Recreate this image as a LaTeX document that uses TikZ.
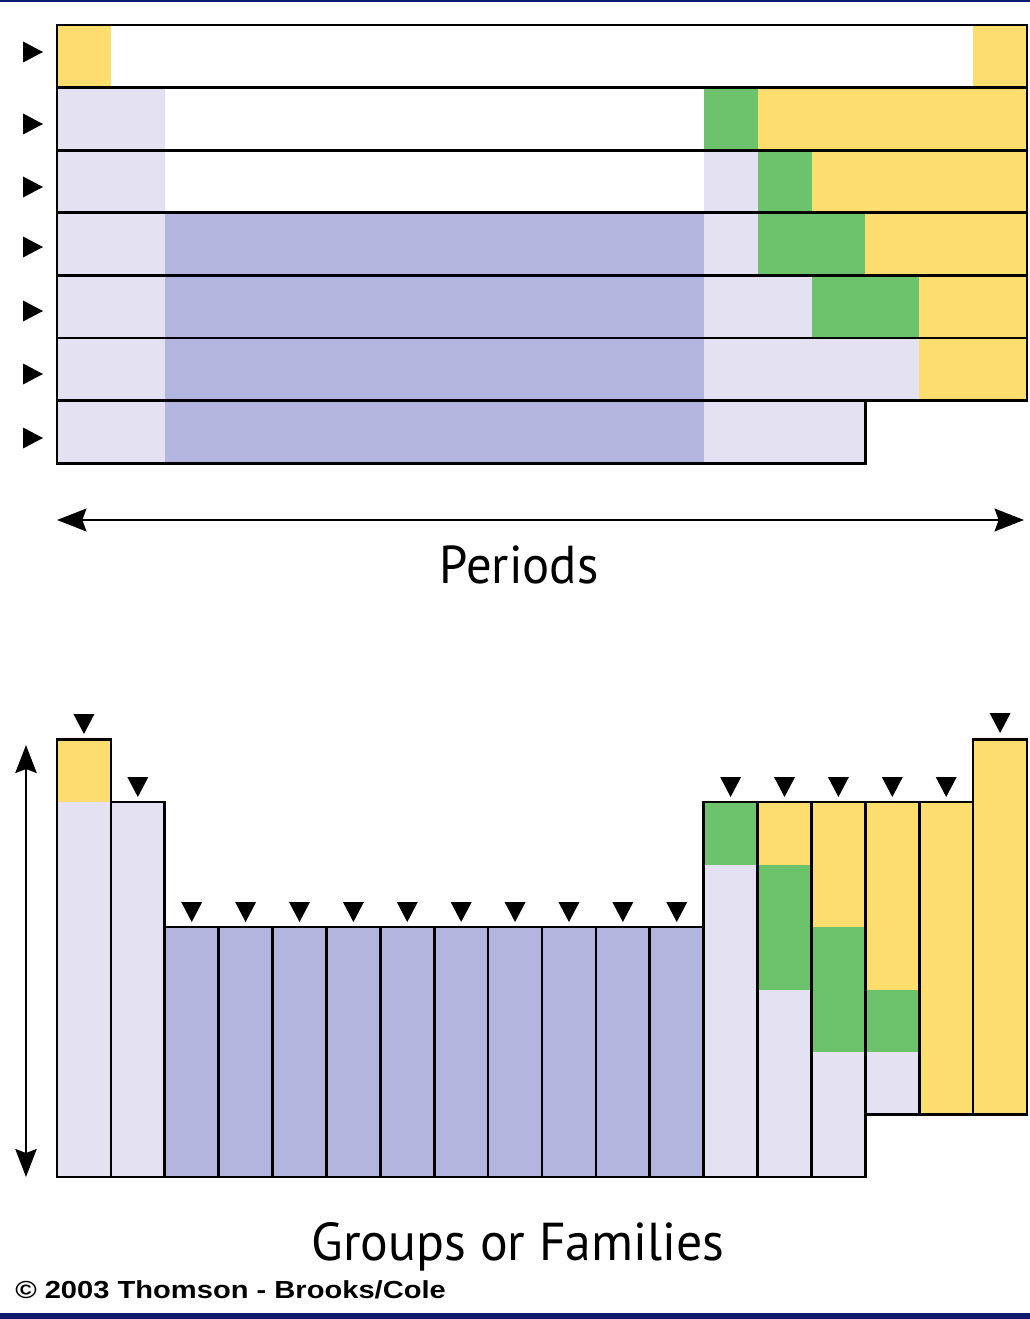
\documentclass[tikz,border=0pt]{standalone}
\usepackage{fontspec}
\usepackage{graphicx}
\usetikzlibrary{arrows.meta}
\newfontfamily\labelfont{PT Sans}
\newfontfamily\credfont{Liberation Sans}
\definecolor{pyel}{HTML}{FCDD6E}
\definecolor{pgrn}{HTML}{6DC36B}
\definecolor{plt}{HTML}{E3E1F2}
\definecolor{pdk}{HTML}{B3B5DE}
\definecolor{navy}{HTML}{0D1B6E}
\begin{document}
\begin{tikzpicture}[x=0.75pt,y=-0.75pt,
  outline/.style={draw=black,line width=2pt,line join=miter},
  marker/.style={fill=black},
  bigarrow/.style={line width=1.9pt,{Stealth[length=22pt,width=17pt,inset=3pt]}-{Stealth[length=22pt,width=17pt,inset=3pt]}},
  vertarrow/.style={line width=1.6pt,{Stealth[length=21pt,width=16pt,inset=3pt]}-{Stealth[length=21pt,width=16pt,inset=3pt]}},
  biglabel/.style={font=\labelfont\fontsize{40}{44}\selectfont,inner sep=0pt,anchor=base},
  credit/.style={font=\credfont\bfseries\fontsize{18.5}{20}\selectfont,inner sep=0pt,anchor=base west}]
\useasboundingbox (0,0) rectangle (1030,1319);
\fill[white] (0,0) rectangle (1030,1319);
% navy bands
\fill[navy] (0,0) rectangle (1030,2.5);
\fill[navy] (0,1313) rectangle (1030,1319);

% ---- periods (top) fills
\foreach \c/\xa/\ya/\xb/\yb in {
  pyel/57/25/110.9/87.6, pyel/973.2/25/1027/87.6,
  plt/57/87.6/164.8/150.2, pgrn/703.7/87.6/757.6/150.2, pyel/757.6/87.6/1027/150.2,
  plt/57/150.2/164.8/212.8, plt/703.7/150.2/757.6/212.8, pgrn/757.6/150.2/811.5/212.8, pyel/811.5/150.2/1027/212.8,
  plt/57/212.8/164.8/275.4, pdk/164.8/212.8/703.7/275.4, plt/703.7/212.8/757.6/275.4, pgrn/757.6/212.8/865.4/275.4, pyel/865.4/212.8/1027/275.4,
  plt/57/275.4/164.8/338, pdk/164.8/275.4/703.7/338, plt/703.7/275.4/811.5/338, pgrn/811.5/275.4/919.3/338, pyel/919.3/275.4/1027/338,
  plt/57/338/164.8/400.6, pdk/164.8/338/703.7/400.6, plt/703.7/338/919.3/400.6, pyel/919.3/338/1027/400.6,
  plt/57/400.6/164.8/463.2, pdk/164.8/400.6/703.7/463.2, plt/703.7/400.6/865.4/463.2}
  {\fill[\c] (\xa,\ya) rectangle (\xb,\yb);}
% period outlines
\foreach \ya/\yb in {25/87.6, 87.6/150.2, 150.2/212.8, 212.8/275.4, 275.4/338, 338/400.6}
  {\draw[outline] (57,\ya) rectangle (1027,\yb);}
\draw[outline] (57,400.6) rectangle (865.4,463.2);
% period markers
\foreach \yy in {52,124,187,247,311,374,438}
  {\fill[marker] (23,\yy-10.5) -- (43,\yy) -- (23,\yy+10.5) -- cycle;}

% periods arrow
\coordinate (pl) at (57,520);
\coordinate (pr) at (1024,520);
\draw[bigarrow] (pl) -- (pr);
\node[biglabel] (periods) at (519,583) {\scalebox{0.95}[1]{Periods}};

% ---- groups (bottom) fills
\foreach \c/\xa/\ya/\xb/\yb in {
  pyel/57/739.5/110.9/802, plt/57/802/110.9/1177,
  plt/110.9/802/164.8/1177,
  pdk/164.8/927/703.7/1177,
  pgrn/703.7/802/757.6/864.5, plt/703.7/864.5/757.6/1177,
  pyel/757.6/802/811.5/864.5, pgrn/757.6/864.5/811.5/989.5, plt/757.6/989.5/811.5/1177,
  pyel/811.5/802/865.4/927, pgrn/811.5/927/865.4/1052, plt/811.5/1052/865.4/1177,
  pyel/865.4/802/919.3/989.5, pgrn/865.4/989.5/919.3/1052, plt/865.4/1052/919.3/1114.5,
  pyel/919.3/802/973.2/1114.5,
  pyel/973.2/739.5/1027/1114.5}
  {\fill[\c] (\xa,\ya) rectangle (\xb,\yb);}
% group outlines and markers
\foreach \i/\t/\b/\m in {1/739.5/1177/734, 2/802/1177/797,
  3/927/1177/922, 4/927/1177/922, 5/927/1177/922, 6/927/1177/922, 7/927/1177/922,
  8/927/1177/922, 9/927/1177/922, 10/927/1177/922, 11/927/1177/922, 12/927/1177/922,
  13/802/1177/797, 14/802/1177/797, 15/802/1177/797, 16/802/1114.5/797,
  17/802/1114.5/797, 18/739.5/1114.5/733}
  {\pgfmathsetmacro\xa{57+53.89*(\i-1)}
   \pgfmathsetmacro\xb{57+53.89*\i}
   \pgfmathsetmacro\xc{57+53.89*(\i-0.5)}
   \draw[outline] (\xa,\t) rectangle (\xb,\b);
   \fill[marker] (\xc-10.5,\m-20) -- (\xc+10.5,\m-20) -- (\xc,\m) -- cycle;}

% vertical arrow
\coordinate (gt) at (26,745);
\coordinate (gb) at (26,1177);
\draw[vertarrow] (gt) -- (gb);
\node[biglabel] (groups) at (518,1260) {\scalebox{0.97}[1]{Groups or Families}};

\node[credit] (credit) at (15,1298) {\scalebox{1.18}[1]{\textcopyright{} 2003 Thomson - Brooks/Cole}};
\end{tikzpicture}
\end{document}
